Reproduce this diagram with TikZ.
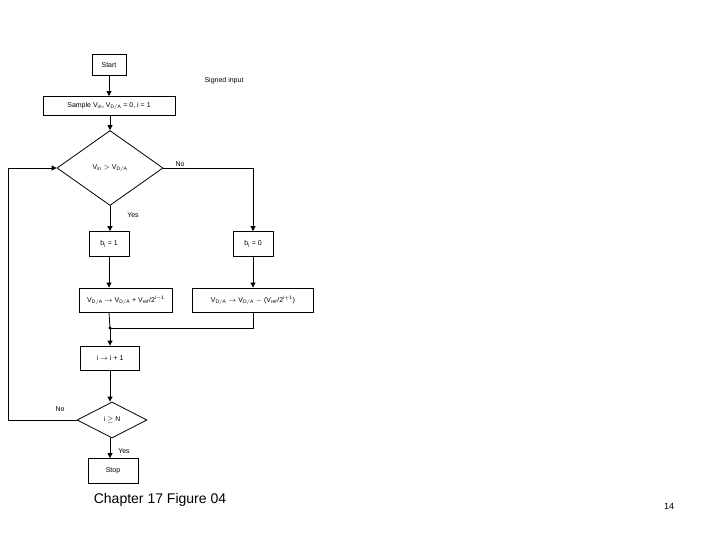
\documentclass[tikz,border=0pt]{standalone}
\usepackage{fontspec}
\setmainfont{Liberation Sans}
\usetikzlibrary{arrows.meta}
\usetikzlibrary{shapes.geometric}
\begin{document}
\begin{tikzpicture}[x=1pt,y=-1pt,font={\fontsize{7}{8}\selectfont}]

\tikzset{action/.style={draw,rectangle,line width={0.8pt},inner sep={0pt},align={center}}}
\tikzset{test/.style={draw,diamond,line width={0.8pt},inner sep={0pt},aspect={1.4}}}
\tikzset{flow/.style={-{Triangle[length=5pt,width=5pt]},line width={0.8pt}}}
\tikzset{lbl/.style={inner sep={0pt}}}

\useasboundingbox (0,0) rectangle (720,540) ;

% actions: nodes

\node at (109,65)  [action,minimum width={34pt},minimum height={21pt}] (Start) {Start} ;
\node at (109,106) [action,minimum width={132pt},minimum height={19pt}] (Sample) {Sample V$_{\mathrm{in}}$, V$_{\mathrm{D/A}}$ = 0, i = 1} ;
\node at (110,168) [test,minimum width={106pt},minimum height={75pt}] (Cmp) {V$_{\mathrm{in}}$ $>$ V$_{\mathrm{D/A}}$} ;
\node at (109,244) [action,minimum width={40pt},minimum height={25pt}] (One) {b$_{\mathrm{i}}$ = 1} ;
\node at (253,244) [action,minimum width={40pt},minimum height={25pt}] (Zero) {b$_{\mathrm{i}}$ = 0} ;
\node at (126,300) [action,minimum width={93pt},minimum height={24pt}] (Add) {V$_{\mathrm{D/A}}$ $\rightarrow$ V$_{\mathrm{D/A}}$ + V$_{\mathrm{ref}}$/2$^{\mathrm{i-1}}$} ;
\node at (253,300) [action,minimum width={121pt},minimum height={24pt}] (Sub) {V$_{\mathrm{D/A}}$ $\rightarrow$ V$_{\mathrm{D/A}}$ $-$ (V$_{\mathrm{ref}}$/2$^{\mathrm{i+1}}$)} ;
\node at (110,358) [action,minimum width={59pt},minimum height={24pt}] (Inc) {i $\rightarrow$ i + 1} ;
\node at (112,420) [test,minimum width={70pt},minimum height={36pt},aspect={2}] (Last) {i $\geq$ N} ;
\node at (113,471) [action,minimum width={50pt},minimum height={25pt}] (Stop) {Stop} ;

\coordinate (Join) at (110,328) ;
\coordinate (Back) at (8,420) ;

% labels

\node at (224,81) [lbl] (Signed) {Signed input} ;
\node at (180,164) [lbl] (NoA) {No} ;
\node at (133,215) [lbl] (YesA) {Yes} ;
\node at (60,409) [lbl] (NoB) {No} ;
\node at (124,451) [lbl] (YesB) {Yes} ;
\node at (160,500) [lbl,font={\fontsize{14}{16}\selectfont}] (Caption) {Chapter 17 Figure 04} ;
\node at (669,506) [lbl,font={\fontsize{9}{10}\selectfont}] (Page) {14} ;

% connections

\draw [flow] (Start) -- (Sample) ;
\draw [flow] (Sample.south -| Cmp) -- (Cmp) ;
\draw [flow] (Cmp) -- (Cmp |- One.north) ;
\draw [flow] (Cmp.east) -| (Zero) ;
\draw [flow] (One) -- (One |- Add.north) ;
\draw [flow] (Zero) -- (Sub) ;
\draw [line width={0.8pt}] (Add.south -| One) -- (Join) ;
\draw [line width={0.8pt}] (Sub) |- (Join) ;
\fill (Join) circle (1.6pt) ;
\draw [flow] (Join) -- (Inc) ;
\draw [flow] (Inc) -- (Last.north -| Inc) ;
\draw [flow] (Last.south -| Inc) -- (Stop.north -| Inc) ;
\draw [flow] (Last.west) -- (Back) |- (Cmp.west) ;

\end{tikzpicture}
\end{document}
